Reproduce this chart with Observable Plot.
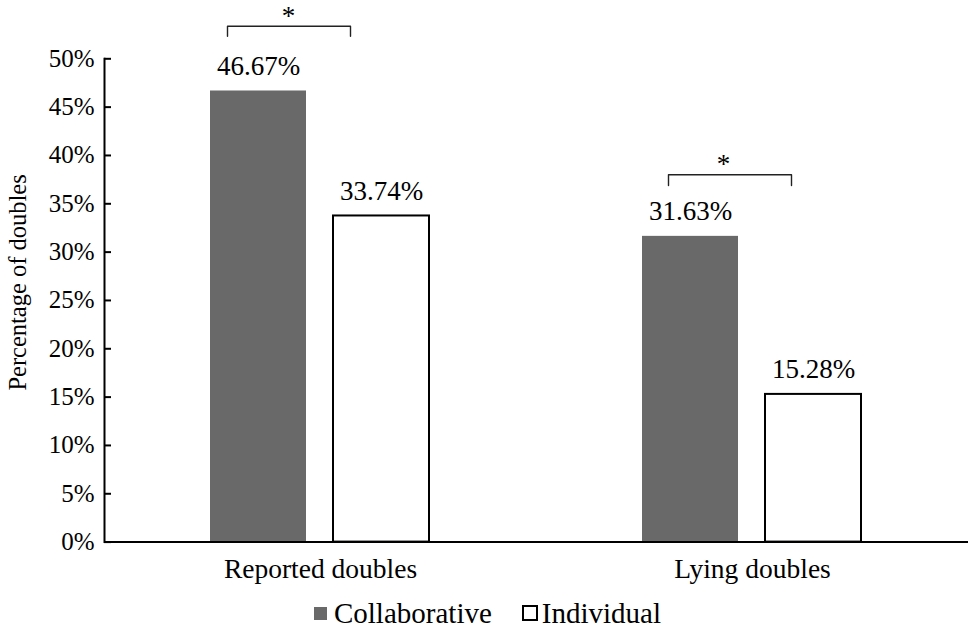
<!DOCTYPE html>
<html>
<head>
<meta charset="utf-8">
<script src="https://cdn.jsdelivr.net/npm/d3@7"></script>
<script src="https://cdn.jsdelivr.net/npm/@observablehq/plot@0.6"></script>
<style>
  body { margin: 0; background: #fff; font-family: 'Liberation Serif', serif; }
  #chart { width: 975px; }
  #chart svg, #chart svg text { font-family: 'Liberation Serif', serif !important; }
  #legend { width: 975px; height: 38px; display: flex; justify-content: center; align-items: center; font-family: 'Liberation Serif', serif; font-size: 29px; color: #000; padding-top: 4px; }
  .item { display: flex; align-items: center; margin: 0 15px; }
  .sw { width: 13px; height: 13px; margin-right: 7px; box-sizing: border-box; }
</style>
</head>
<body>
<div id="chart"></div>
<div id="legend"></div>
<script>
const groups = ["Reported doubles", "Lying doubles"];
const series = ["Collaborative", "Individual"];
const collaborativeValues = [46.67, 31.63];
const individualValues = [33.74, 15.28];
const yTicks = [0, 5, 10, 15, 20, 25, 30, 35, 40, 45, 50];
const yTitle = "Percentage of doubles";
const sigGroups = ["Reported doubles", "Lying doubles"];
const sigTop = [53.37, 38.0];
const sigLeg = [52.34, 36.9];
const seriesColors = ["#696969", "#ffffff"];

const rows = [];
groups.forEach((g, i) => {
  rows.push({group: g, series: series[0], value: collaborativeValues[i]});
  rows.push({group: g, series: series[1], value: individualValues[i]});
});

const bracketMarks = [];
sigGroups.forEach((g, i) => {
  const pts = [
    {group: g, series: series[0], y: sigLeg[i]},
    {group: g, series: series[0], y: sigTop[i]},
    {group: g, series: series[1], y: sigTop[i]},
    {group: g, series: series[1], y: sigLeg[i]}
  ];
  bracketMarks.push(Plot.line(pts, {fx: "group", x: "series", y: "y", stroke: "#222", strokeWidth: 1.4, dx: i === 0 ? -31 : -22}));
  bracketMarks.push(Plot.text([pts[1]], {fx: "group", x: "series", y: "y", text: () => "*", fontSize: 27, lineAnchor: "middle", dy: -10, dx: i === 0 ? 30 : 33, fill: "#000"}));
});

const svgHeight = 590;
const chart = Plot.plot({
  width: 975,
  height: svgHeight,
  marginLeft: 103,
  marginRight: 7,
  marginTop: 58.3,
  marginBottom: svgHeight - 541.6,
  style: {fontFamily: "'Liberation Serif', serif", color: "#000", background: "#fff"},
  fx: {domain: groups, padding: 0},
  x: {domain: series, paddingInner: 0.218, paddingOuter: 0.853, axis: null},
  y: {domain: [0, 50]},
  marks: [
    Plot.barY(rows.filter(d => d.series === series[0]), {fx: "group", x: "series", y: "value", fill: seriesColors[0]}),
    Plot.barY(rows.filter(d => d.series === series[1]), {fx: "group", x: "series", y: "value", fill: seriesColors[1], stroke: "#000", strokeWidth: 2}),
    Plot.text(rows, {fx: "group", x: "series", y: "value", text: d => d.value.toFixed(2) + "%", lineAnchor: "bottom", dy: -16, fontSize: 27, fill: "#000"}),
    ...bracketMarks,
    Plot.ruleY([0], {stroke: "#000", strokeWidth: 2}),
    Plot.frame({anchor: "left", facetAnchor: "left", stroke: "#000", strokeWidth: 2}),
    Plot.axisY({ticks: yTicks, tickFormat: d => d + "%", tickSize: -7, tickPadding: 17, fontSize: 25, strokeWidth: 2, label: null}),
    Plot.text([yTitle], {frameAnchor: "left", facetAnchor: "left", text: d => d, rotate: -90, textAnchor: "middle", lineAnchor: "middle", dx: -86, dy: -18, fontSize: 24.5, fill: "#000"}),
    Plot.axisFx({anchor: "bottom", tickSize: 0, tickPadding: 16, fontSize: 27.5, label: null})
  ]
});
document.getElementById("chart").appendChild(chart);

const legend = document.getElementById("legend");
series.forEach((s, i) => {
  const item = document.createElement("div");
  item.className = "item";
  const sw = document.createElement("div");
  sw.className = "sw";
  sw.style.background = seriesColors[i];
  if (i === 1) { sw.style.border = "2px solid #000"; sw.style.width = "16px"; sw.style.height = "16px"; sw.style.marginRight = "4px"; }
  const t = document.createElement("span");
  t.textContent = s;
  item.appendChild(sw);
  item.appendChild(t);
  legend.appendChild(item);
});
</script>
</body>
</html>
